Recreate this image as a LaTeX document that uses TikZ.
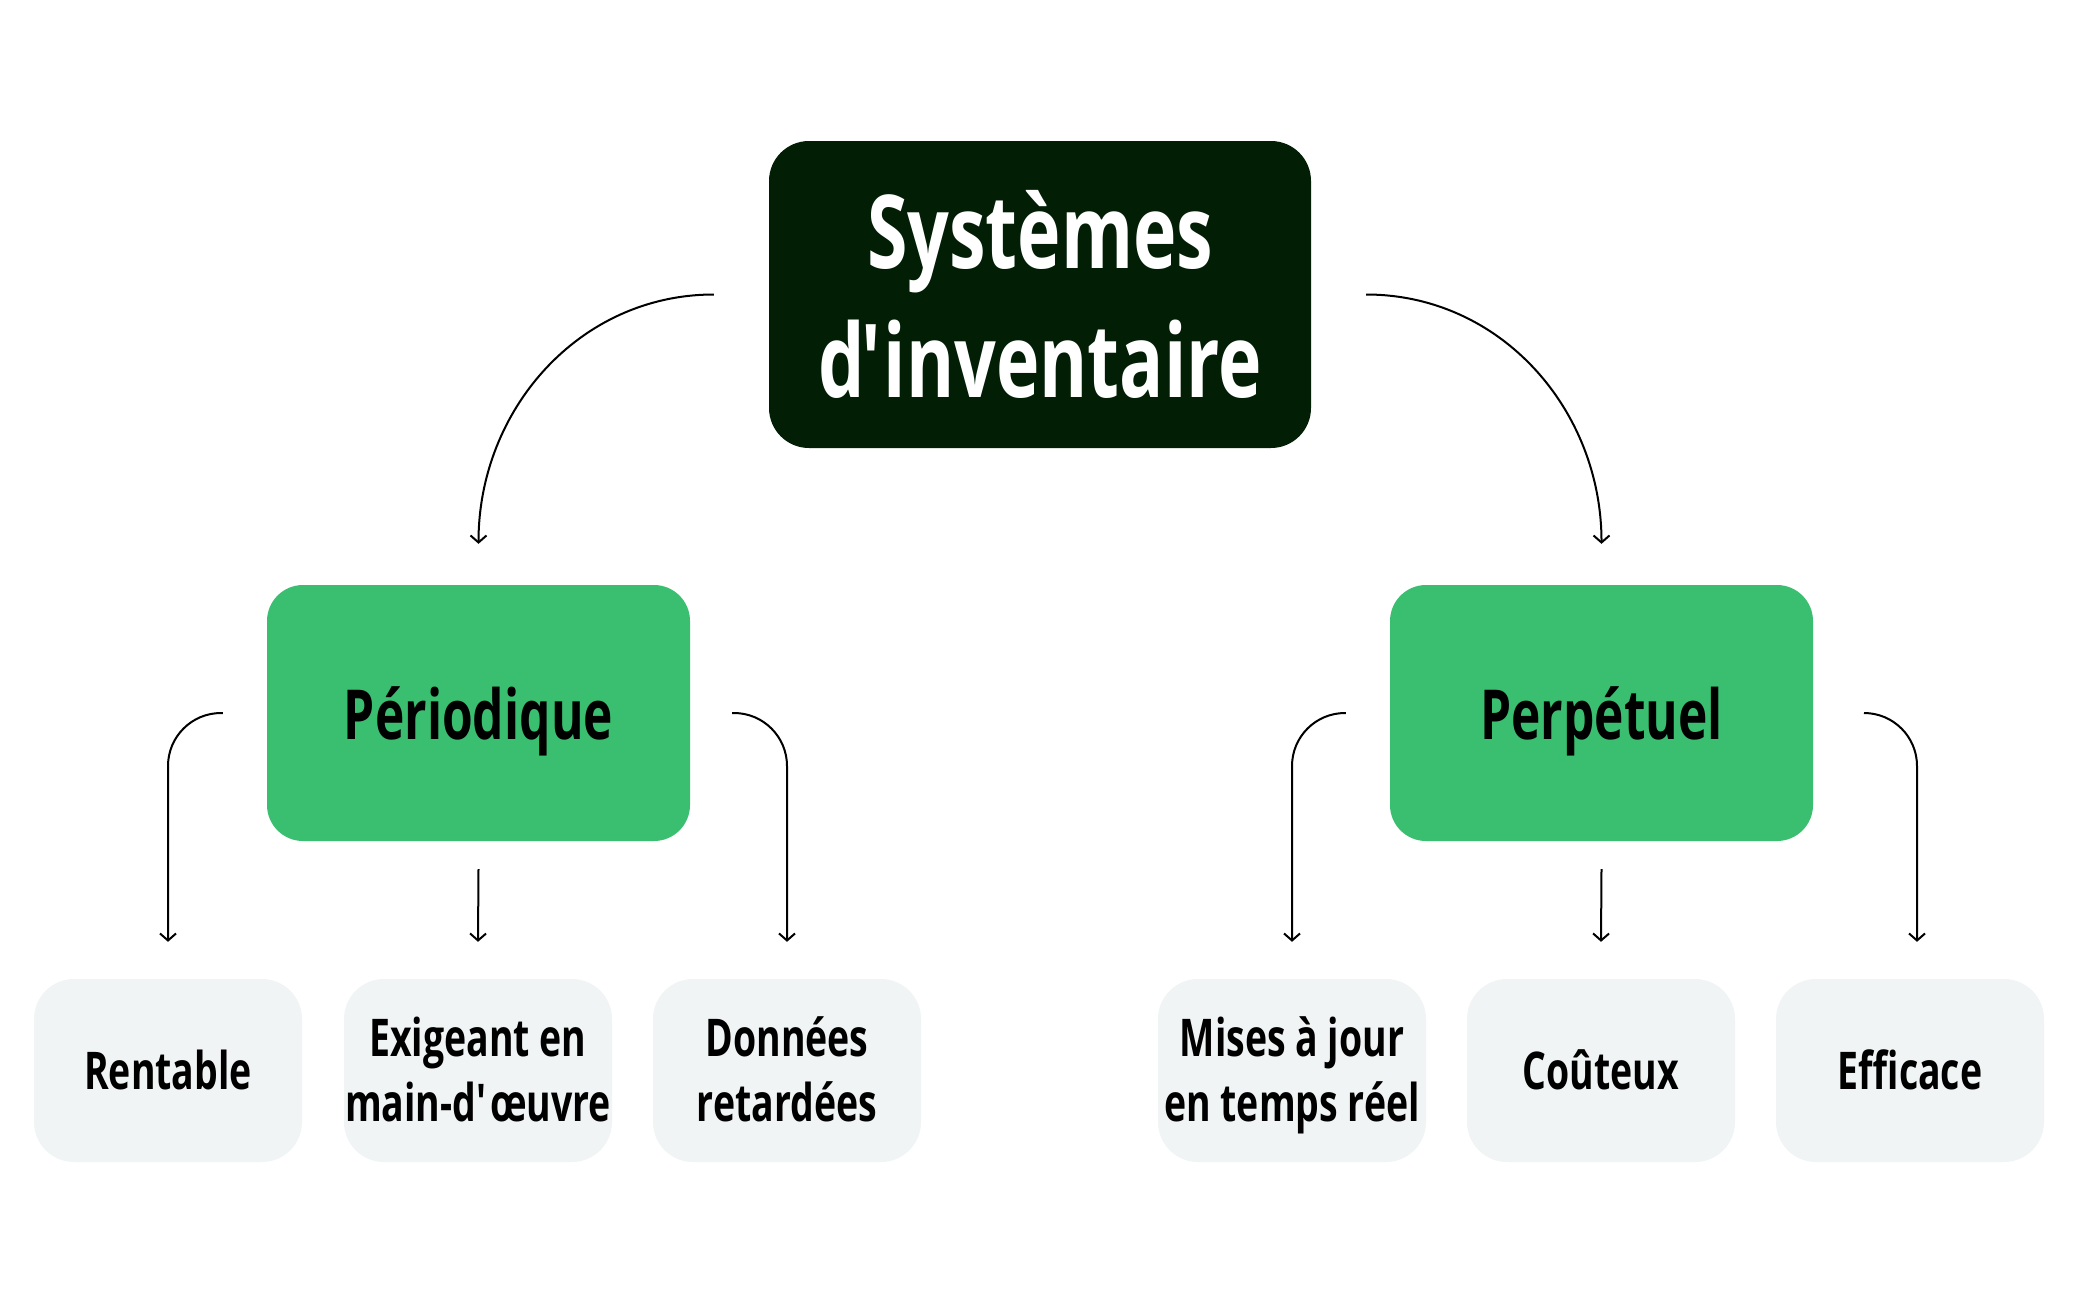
\documentclass[tikz,border=0pt]{standalone}
\usepackage{fontspec}
\setmainfont{Open Sans}[FakeStretch=0.72]
\usetikzlibrary{arrows.meta}
\definecolor{dark}{HTML}{021F05}
\definecolor{grn}{HTML}{3ABF71}
\definecolor{lite}{HTML}{F1F4F5}
\newcommand{\twolines}[2]{\vbox{\halign{\hfil##\hfil\cr #1\cr #2\cr}}}
\tikzset{
  topbox/.style={fill=dark, text=white, rounded corners=40pt, inner sep=0pt,
    minimum width=542pt, minimum height=307pt, align=center,
    font=\fontsize{102}{129}\selectfont\bfseries},
  midbox/.style={fill=grn, text=black, rounded corners=36pt, inner sep=0pt,
    minimum width=423pt, minimum height=256pt, text height=52pt, text depth=0pt,
    font=\fontsize{69}{80}\selectfont\bfseries},
  leafbox/.style={fill=lite, text=black, rounded corners=40pt, inner sep=0pt,
    minimum width=268pt, minimum height=183pt, text height=37pt, text depth=0pt,
    font=\fontsize{52}{65}\selectfont\bfseries},
  leaftwo/.style={leafbox, text height=101pt},
  conn/.style={draw=black, line width=2pt, -{Straight Barb[length=7pt,width=16pt,line width=2pt]}},
}
\begin{document}
\begin{tikzpicture}[x=1pt,y=-1pt]
\useasboundingbox (0,0) rectangle (2080,1302);
\fill[white] (0,0) rectangle (2080,1302);

\node[topbox] (top) at (1040,294.5) {Systèmes\\d\kern-0.03em\textquotesingle\kern-0.05em inventaire};
\node[midbox] (peri) at (478.5,713) {Périodique};
\node[midbox] (perp) at (1601.5,713) {Perpétuel};

\node[leafbox] (rent) at (168,1070.5) {Rentable};
\node[leaftwo] (exig) at (478,1070.5) {\twolines{Exigeant en}{main-d\textquotesingle œuvre}};
\node[leaftwo] (donn) at (787,1070.5) {\twolines{Données}{retardées}};
\node[leaftwo] (mise) at (1292,1070.5) {\twolines{Mises à jour}{en temps réel}};
\node[leafbox] (cout) at (1601,1070.5) {Coûteux};
\node[leafbox] (effi) at (1910,1070.5) {Efficace};

% main connectors
\draw[conn] ([xshift=-55pt]top.west) to[out=180,in=90] ([yshift=41pt]peri.north);
\draw[conn] ([xshift=55pt]top.east) to[out=0,in=90] ([yshift=41pt]perp.north);

% Periodique children
\draw[conn, rounded corners=53pt] ([xshift=-44pt]peri.west) -| ([yshift=37pt]rent.north);
\draw[conn] ([yshift=-28pt]peri.south) -- ([yshift=37pt]exig.north);
\draw[conn, rounded corners=53pt] ([xshift=42pt]peri.east) -| ([yshift=37pt]donn.north);

% Perpetuel children
\draw[conn, rounded corners=53pt] ([xshift=-44pt]perp.west) -| ([yshift=37pt]mise.north);
\draw[conn] ([yshift=-28pt]perp.south) -- ([yshift=37pt]cout.north);
\draw[conn, rounded corners=53pt] ([xshift=51pt]perp.east) -| ([yshift=37pt]effi.north -| 1917,0);
\end{tikzpicture}
\end{document}
